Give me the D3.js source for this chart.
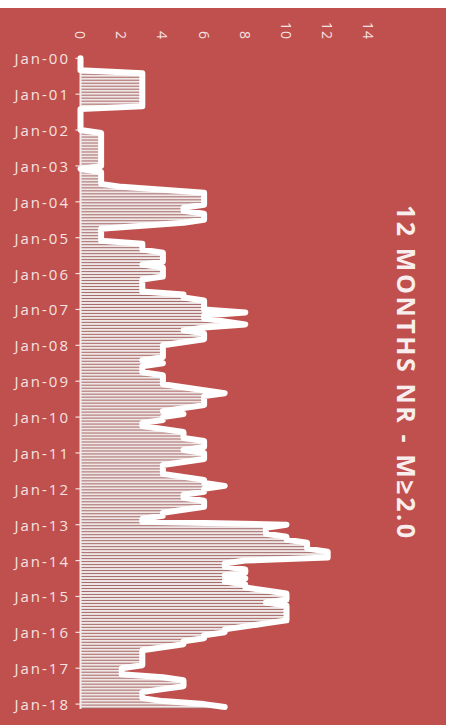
<!DOCTYPE html>
<html>
<head>
<meta charset="utf-8">
<script src="https://cdn.jsdelivr.net/npm/d3@7"></script>
<style>
  html, body { margin: 0; padding: 0; background: #ffffff; }
  svg { display: block; }
</style>
</head>
<body>
<svg id="chart" width="450" height="725"></svg>
<script>
// Rolling 12-month count of M≥2.0 events, one value per month from Jan-00 to Feb-18
const counts = [
  0, 0, 0, 0, 0, 3, 3, 3, 3, 3, 3, 3,          // 2000
  3, 3, 3, 3, 3, 0, 0, 0, 0, 0, 0, 0,          // 2001
  0, 1, 1, 1, 1, 1, 1, 1, 1, 1, 1, 1,          // 2002
  1, 0, 1, 1, 1, 1, 1, 2, 4, 6, 6, 6,          // 2003
  6, 6, 5, 5, 6, 6, 6, 5, 3, 1, 1, 1,          // 2004
  1, 1, 3, 3, 3, 4, 4, 4, 4, 3, 4, 4,          // 2005
  4, 4, 3, 3, 3, 3, 3, 5, 5, 6, 6, 6,          // 2006
  6, 8, 6, 6, 7, 8, 6, 5, 6, 6, 6, 5,          // 2007
  4, 4, 4, 4, 4, 3, 4, 3, 3, 3, 4, 4,          // 2008
  4, 4, 5, 6, 7, 6, 6, 6, 6, 5, 4, 5,          // 2009
  4, 4, 3, 3, 4, 5, 5, 5, 6, 6, 6, 5,          // 2010
  6, 6, 6, 5, 4, 4, 4, 4, 5, 6, 6, 7,          // 2011
  6, 6, 5, 5, 6, 6, 6, 5, 4, 4, 3, 3,          // 2012
  10, 9, 9, 9, 10, 10, 11, 11, 11, 12, 12, 12, // 2013
  8, 7, 7, 8, 8, 7, 8, 7, 8, 8, 9, 10,         // 2014
  10, 10, 9, 10, 10, 10, 10, 10, 10, 9, 8, 7,  // 2015
  7, 6, 6, 5, 5, 4, 3, 3, 3, 3, 3, 3,          // 2016
  2, 2, 2, 4, 5, 5, 5, 4, 3, 3, 3, 4,          // 2017
  6, 7                                         // 2018
];

// Category axis labels (January of each year)
const yearLabels = ["Jan-00", "Jan-01", "Jan-02", "Jan-03", "Jan-04", "Jan-05",
  "Jan-06", "Jan-07", "Jan-08", "Jan-09", "Jan-10", "Jan-11", "Jan-12",
  "Jan-13", "Jan-14", "Jan-15", "Jan-16", "Jan-17", "Jan-18"];

// Value axis ticks
const valueTicks = [0, 2, 4, 6, 8, 10, 12, 14];

const title = "12 MONTHS NR - M\u22652.0";

const svg = d3.select("#chart");
const W = 450, H = 725;

const red = "#C0504D";
const labelColor = "#F4E2E1";

// Chart panel
svg.append("rect")
  .attr("x", 0).attr("y", 8)
  .attr("width", 446).attr("height", H - 8)
  .attr("fill", red);

const x = d3.scaleLinear().domain([0, 14]).range([80.5, 368.9]);
const y = d3.scaleLinear().domain([0, 216]).range([58.3, 704.1]);
const step = y(1) - y(0);

const months = counts.map((v, i) => ({ i, v }));

// Hatched month bars: a darker band under a lighter strip
const bars = svg.append("g");
bars.selectAll("rect.shade")
  .data(months.filter(d => d.v > 0))
  .join("rect")
  .attr("class", "shade")
  .attr("x", x(0))
  .attr("y", d => y(d.i) - step / 2)
  .attr("width", d => x(d.v) - x(0))
  .attr("height", step)
  .attr("fill", "#A56C6B");
bars.selectAll("rect.bar")
  .data(months.filter(d => d.v > 0))
  .join("rect")
  .attr("class", "bar")
  .attr("x", x(0))
  .attr("y", d => y(d.i) - step / 2)
  .attr("width", d => x(d.v) - x(0))
  .attr("height", step - 1)
  .attr("fill", "#EFE6E6");

// Category axis line and year ticks
svg.append("line")
  .attr("x1", x(0)).attr("x2", x(0))
  .attr("y1", y(0) - 2).attr("y2", y(counts.length - 1) + 2)
  .attr("stroke", "#F6ECEC").attr("stroke-width", 2);

const yearIdx = yearLabels.map((t, k) => ({ t, i: k * 12 }));
svg.append("g").selectAll("line")
  .data(yearIdx)
  .join("line")
  .attr("x1", 75.5).attr("x2", x(0))
  .attr("y1", d => y(d.i)).attr("y2", d => y(d.i))
  .attr("stroke", labelColor).attr("stroke-width", 1.2);

svg.append("g").selectAll("text")
  .data(yearIdx)
  .join("text")
  .attr("x", 70)
  .attr("y", d => y(d.i))
  .attr("text-anchor", "end")
  .attr("dominant-baseline", "central")
  .attr("font-family", "'Open Sans', sans-serif")
  .attr("font-size", 15)
  .attr("letter-spacing", 2)
  .attr("fill", labelColor)
  .text(d => d.t);

// Value axis labels along the top, turned a quarter clockwise
svg.append("g").selectAll("text")
  .data(valueTicks)
  .join("text")
  .attr("transform", d => `translate(${x(d)},40) rotate(90)`)
  .attr("text-anchor", "end")
  .attr("dominant-baseline", "central")
  .attr("font-family", "'Open Sans', sans-serif")
  .attr("font-size", 14)
  .attr("letter-spacing", 1)
  .attr("fill", labelColor)
  .text(d => d);

// Outline of the monthly series
const line = d3.line()
  .x(d => x(d.v))
  .y(d => y(d.i));
svg.append("path")
  .datum(months)
  .attr("d", line)
  .attr("fill", "none")
  .attr("stroke", "#FFFFFF")
  .attr("stroke-width", 6)
  .attr("stroke-linejoin", "round")
  .attr("stroke-linecap", "round");

// Title on the right, reading downward
svg.append("text")
  .attr("transform", "translate(407,371.5) rotate(90)")
  .attr("text-anchor", "middle")
  .attr("dominant-baseline", "central")
  .attr("font-family", "'Open Sans', sans-serif")
  .attr("font-weight", 700)
  .attr("font-size", 25)
  .attr("textLength", 333)
  .attr("lengthAdjust", "spacing")
  .attr("fill", "#F8EEEE")
  .text(title);
</script>
</body>
</html>
